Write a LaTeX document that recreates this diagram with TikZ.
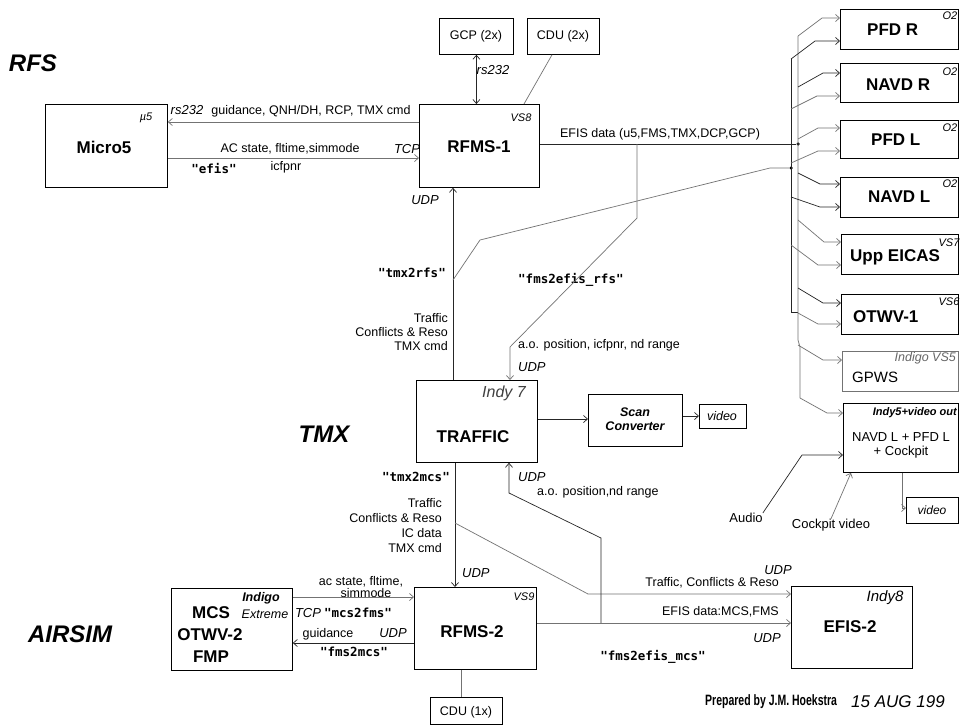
\documentclass[tikz,border=0pt]{standalone}
\usepackage{fontspec}
\setmainfont{Liberation Sans}
\newfontfamily\monofont{DejaVu Sans Mono}
\usepackage{graphicx}
\usetikzlibrary{arrows.meta}
\newcommand{\fsz}[1]{\fontsize{#1}{#1}\selectfont}
\begin{document}
\begin{tikzpicture}[x=1pt,y=-1pt,
  box/.style={draw=black,line width=0.8pt,inner sep=0pt,anchor=north west},
  lbl/.style={inner sep=0pt,font=\fsz{12.5}},
  big/.style={inner sep=0pt,font=\fsz{17}\bfseries},
  tag/.style={inner sep=0pt,font=\fsz{13}\itshape},
  stag/.style={inner sep=0pt,font=\fsz{11}\itshape},
  mono/.style={inner sep=0pt,font=\fsz{12.5}\monofont\bfseries},
  region/.style={inner sep=0pt,font=\fsz{24}\bfseries\itshape},
  ln/.style={line width=0.7pt,draw=black!85},
  lg/.style={line width=0.7pt,draw=black!55},
  arr/.style={-{Straight Barb[length=4pt,width=7pt]}},
  dot/.style={circle,fill=black,inner sep=0pt,minimum size=3.5pt},
]
\useasboundingbox[fill=white] (0,0) rectangle (964,724);

% ---------- boxes ----------
\node[box,minimum width=122pt,minimum height=83pt] (micro5) at (45,104) {};
\node[box,minimum width=120pt,minimum height=83pt] (rfms1) at (419,104) {};
\node[box,minimum width=74pt,minimum height=36pt] (gcp) at (439,18) {};
\node[box,minimum width=72pt,minimum height=36pt] (cdu2) at (527,18) {};
\node[box,minimum width=118pt,minimum height=40pt] (pfdr) at (840,9) {};
\node[box,minimum width=118pt,minimum height=39pt] (navdr) at (840,63) {};
\node[box,minimum width=118pt,minimum height=38pt] (pfdl) at (840,120) {};
\node[box,minimum width=118pt,minimum height=40pt] (navdl) at (840,177) {};
\node[box,minimum width=117pt,minimum height=40pt] (eicas) at (841,234) {};
\node[box,minimum width=117pt,minimum height=40pt] (otwv1) at (841,294) {};
\node[box,draw=black!55,minimum width=116pt,minimum height=40pt] (gpws) at (842,351) {};
\node[box,minimum width=115pt,minimum height=69pt] (indy5) at (843,403) {};
\node[box,minimum width=52pt,minimum height=26pt] (vid2) at (906,497) {};
\node[box,minimum width=121pt,minimum height=82pt] (traffic) at (416,380) {};
\node[box,minimum width=94pt,minimum height=52pt] (scan) at (588,394) {};
\node[box,minimum width=47pt,minimum height=24pt] (vid1) at (699,404) {};
\node[box,minimum width=121pt,minimum height=82pt] (mcs) at (171,588) {};
\node[box,minimum width=122pt,minimum height=82pt] (rfms2) at (414,587) {};
\node[box,minimum width=121pt,minimum height=82pt] (efis2) at (791,586) {};
\node[box,minimum width=72pt,minimum height=27pt] (cdu1) at (430,697) {};

% ---------- region titles ----------
\node[region] (trfs) at (33,63) {RFS};
\node[region] (ttmx) at (324,434) {TMX};
\node[region] (tairsim) at (70,634) {AIRSIM};

% ---------- box texts ----------
\node[big] (tmicro5) at (104,147) {Micro5};
\node[stag] (tmu5) at (146,118) {µ5};
\node[big] (trfms1) at (479,147) {RFMS-1};
\node[stag] (tvs8) at (521,118) {VS8};
\node[lbl] (tgcp) at (476,36) {GCP (2x)};
\node[lbl] (tcdu2) at (563,36) {CDU (2x)};
\node[big,anchor=west] (tpfdr) at (867,30) {PFD R};
\node[big,anchor=west] (tnavdr) at (866,85) {NAVD R};
\node[big,anchor=west] (tpfdl) at (871,140) {PFD L};
\node[big,anchor=west] (tnavdl) at (868,197) {NAVD L};
\node[big,anchor=west] (teicas) at (850,257) {Upp EICAS};
\node[big,anchor=west] (totwv1) at (853,317) {OTWV-1};
\node[inner sep=0pt,font=\fsz{15},anchor=west] (tgpws) at (852,377) {GPWS};
\node[stag] (to2a) at (950,16) {O2};
\node[stag] (to2b) at (950,72) {O2};
\node[stag] (to2c) at (950,128) {O2};
\node[stag] (to2d) at (950,184) {O2};
\node[stag] (tvs7) at (949,243) {VS7};
\node[stag] (tvs6) at (949,302) {VS6};
\node[inner sep=0pt,font=\fsz{12.5}\itshape,text=black!60,anchor=east] (tvs5) at (956,358) {Indigo VS5};
\node[inner sep=0pt,font=\fsz{11}\bfseries\itshape,anchor=east] (tindy5) at (957,413) {Indy5+video out};
\node[inner sep=0pt,font=\fsz{13},align=center] (tnavpfd) at (901,445) {NAVD L + PFD L\\[1pt]+ Cockpit};
\node[inner sep=0pt,font=\fsz{12}\itshape] (tvid2) at (932,510) {video};
\node[inner sep=0pt,font=\fsz{16}\itshape,text=black!75] (tindy7) at (504,393) {Indy 7};
\node[big] (ttraffic) at (473,437) {TRAFFIC};
\node[inner sep=0pt,font=\fsz{12.5}\bfseries\itshape,align=center] (tscan) at (635,419) {Scan\\[2pt]Converter};
\node[inner sep=0pt,font=\fsz{12.5}\itshape] (tvid1) at (722,416) {video};
\node[big] (tmcs1) at (211,613) {MCS};
\node[big] (tmcs2) at (210,635) {OTWV-2};
\node[big] (tmcs3) at (211,657) {FMP};
\node[inner sep=0pt,font=\fsz{12.5}\bfseries\itshape] (tindigo) at (261,598) {Indigo};
\node[inner sep=0pt,font=\fsz{12.5}\itshape] (textreme) at (265,614) {Extreme};
\node[big] (trfms2) at (472,632) {RFMS-2};
\node[stag] (tvs9) at (524,597) {VS9};
\node[lbl] (tcdu1) at (466,712) {CDU (1x)};
\node[inner sep=0pt,font=\fsz{15}\itshape] (tindy8) at (885,598) {Indy8};
\node[big] (tefis2) at (850,627) {EFIS-2};

% ---------- connector labels ----------
\node[tag] (lrs1) at (187,110) {rs232};
\node[lbl] (lguid1) at (311,111) {guidance, QNH/DH, RCP, TMX cmd};
\node[lbl] (lac1) at (290,149) {AC state, fltime,simmode};
\node[tag] (ltcp1) at (407,149) {TCP};
\node[mono] (lefis) at (214,168) {"efis"};
\node[lbl] (licf) at (286,167) {icfpnr};
\node[tag] (lrs2) at (493,70) {rs232};
\node[tag] (ludp1) at (425,200) {UDP};
\node[lbl] (lefisdata) at (660,134) {EFIS data (u5,FMS,TMX,DCP,GCP)};
\node[mono,anchor=east] (ltmx2rfs) at (446,273) {"tmx2rfs"};
\node[mono,anchor=west] (lfms2efisrfs) at (518,280) {"fms2efis\_rfs"};
\node[lbl,anchor=east,align=right,font=\fsz{12.5}\linespread{1.15}\selectfont] (ltraf1) at (448,332) {Traffic\\Conflicts \& Reso\\TMX cmd};
\node[lbl,anchor=west] (lao1) at (518,345) {a.o. position, icfpnr, nd range};
\node[tag,anchor=west] (ludp2) at (518,367) {UDP};
\node[mono,anchor=east] (ltmx2mcs) at (450,477) {"tmx2mcs"};
\node[tag,anchor=west] (ludp3) at (518,477) {UDP};
\node[lbl,anchor=west] (lao2) at (537,492) {a.o. position,nd range};
\node[lbl,anchor=east,align=right,font=\fsz{12.5}\linespread{1.2}\selectfont] (ltraf2) at (442,525.5) {Traffic\\Conflicts \& Reso\\IC data\\TMX cmd};
\node[tag,anchor=west] (ludp4) at (462,573) {UDP};
\node[lbl,align=center,font=\fsz{12.5}\linespread{0.95}\selectfont] (lacs2) at (361,587) {ac state, fltime,\\\hspace*{10pt}simmode};
\node[tag] (ltcp2) at (308,613) {TCP};
\node[mono] (lmcs2fms) at (358,613) {"mcs2fms"};
\node[lbl] (lguid2) at (328,634) {guidance};
\node[tag] (ludp5) at (393,633) {UDP};
\node[mono] (lfms2mcs) at (354,652) {"fms2mcs"};
\node[tag] (ludp6) at (778,570) {UDP};
\node[lbl,anchor=east] (ltraf3) at (779,583) {Traffic, Conflicts \& Reso};
\node[lbl,anchor=east] (lefis2) at (779,612) {EFIS data:MCS,FMS};
\node[tag] (ludp7) at (767,638) {UDP};
\node[mono] (lfms2efismcs) at (653,657) {"fms2efis\_mcs"};
\node[lbl,font=\fsz{13}] (laudio) at (746,518) {Audio};
\node[lbl,font=\fsz{13}] (lcockpit) at (831,525) {Cockpit video};
\node[inner sep=0pt,anchor=west] (lprep) at (705,702) {\scalebox{0.7}[1]{\fsz{15}\bfseries Prepared by J.M. Hoekstra}};
\node[inner sep=0pt,anchor=west,font=\fsz{17}\itshape] (ldate) at (851,702) {15 AUG 199};

% ---------- bus ----------
\coordinate (busB) at (791,0);
\coordinate (busG) at (798,0);
\node[dot] (j1) at (798,144) {};
\node[dot] (j2) at (791,168) {};
\draw[ln] (busB |- 0,59) -- (busB |- 0,312) -- (busG |- 0,312);
\draw[lg] (busG |- 0,36) -- (busG |- 0,340) -- (800,347) -- (800,398);

% bus taps
\draw[lg,arr] (busG |- 0,36) -- (822,18) -- (pfdr.west |- 0,18);
\draw[ln,arr] (busB |- 0,59) -- (815,41) -- (pfdr.west |- 0,41);
\draw[ln,arr] (busG |- 0,87) -- (823,73) -- (navdr.west |- 0,73);
\draw[lg,arr] (busB |- 0,109) -- (817,96) -- (navdr.west |- 0,96);
\draw[lg,arr] (busG |- 0,139) -- (818,128) -- (pfdl.west |- 0,128);
\draw[lg,arr] (busB |- 0,163) -- (818,151) -- (pfdl.west |- 0,151);
\draw[ln,arr] (busG |- 0,173) -- (820,184) -- (navdl.west |- 0,184);
\draw[ln,arr] (busB |- 0,197) -- (820,207) -- (navdl.west |- 0,207);
\draw[lg,arr] (busG |- 0,220) -- (824,242) -- (eicas.west |- 0,242);
\draw[lg,arr] (busB |- 0,245) -- (818,265) -- (eicas.west |- 0,265);
\draw[ln,arr] (busG |- 0,288) -- (823,303) -- (otwv1.west |- 0,303);
\draw[lg,arr] (busG |- 0,313) -- (818,324) -- (otwv1.west |- 0,324);
\draw[lg,arr] (busG |- 0,345) -- (823,360) -- (gpws.west |- 0,360);
\draw[lg,arr] (800,398) -- (827,413) -- (indy5.west |- 0,413);

% ---------- RFS connectors ----------
\draw[lg,arr] (rfms1.west |- 0,122) -- (micro5.east |- 0,122);
\draw[lg,arr] (micro5.east |- 0,158) -- (rfms1.west |- 0,158);
\draw[ln,{Straight Barb[length=4pt,width=7pt]}-{Straight Barb[length=4pt,width=7pt]}] (gcp.south) -- (rfms1.north -| gcp.south);
\draw[lg] (552,0 |- cdu2.south) -- (524,0 |- rfms1.north);
\draw[ln] (rfms1.east |- 0,144) -- (j1);
\draw[lg,arr] (637,144) -- (637,218) -- (510,347) -- (traffic.north -| 510,0);
\draw[ln,arr] (traffic.north -| 453,0) -- (rfms1.south -| 453,0);
\draw[lg] (453,280) -- (480,240) -- (770,168) -- (j2);

% ---------- TMX connectors ----------
\draw[ln,arr] (traffic.east |- 0,419) -- (scan.west |- 0,419);
\draw[ln,arr] (scan.east |- 0,416) -- (vid1.west |- 0,416);
\draw[ln,arr] (traffic.south -| 455,0) -- (rfms2.north -| 455,0);
\draw[lg,arr] (455,523) -- (588,594) -- (efis2.west |- 0,594);
\draw[ln,arr] (601,623) -- (601,538) -- (509,493) -- (traffic.south -| 509,0);

% ---------- AIRSIM connectors ----------
\draw[lg,arr] (rfms2.east |- 0,623) -- (efis2.west |- 0,623);
\draw[lg,arr] (mcs.east |- 0,597) -- (rfms2.west |- 0,597);
\draw[ln,arr] (rfms2.west |- 0,643) -- (mcs.east |- 0,643);
\draw[lg] (rfms2.south -| 461,0) -- (cdu1.north -| 461,0);

% ---------- Indy5 ----------
\draw[lg,arr] (indy5.south -| 902,0) -- (902,508) -- (vid2.west |- 0,508);
\draw[ln,arr] (laudio.north east) -- (802,455) -- (indy5.west |- 0,455);
\draw[lg,arr] (lcockpit.north) -- (indy5.south -| 851,0);
\end{tikzpicture}
\end{document}
